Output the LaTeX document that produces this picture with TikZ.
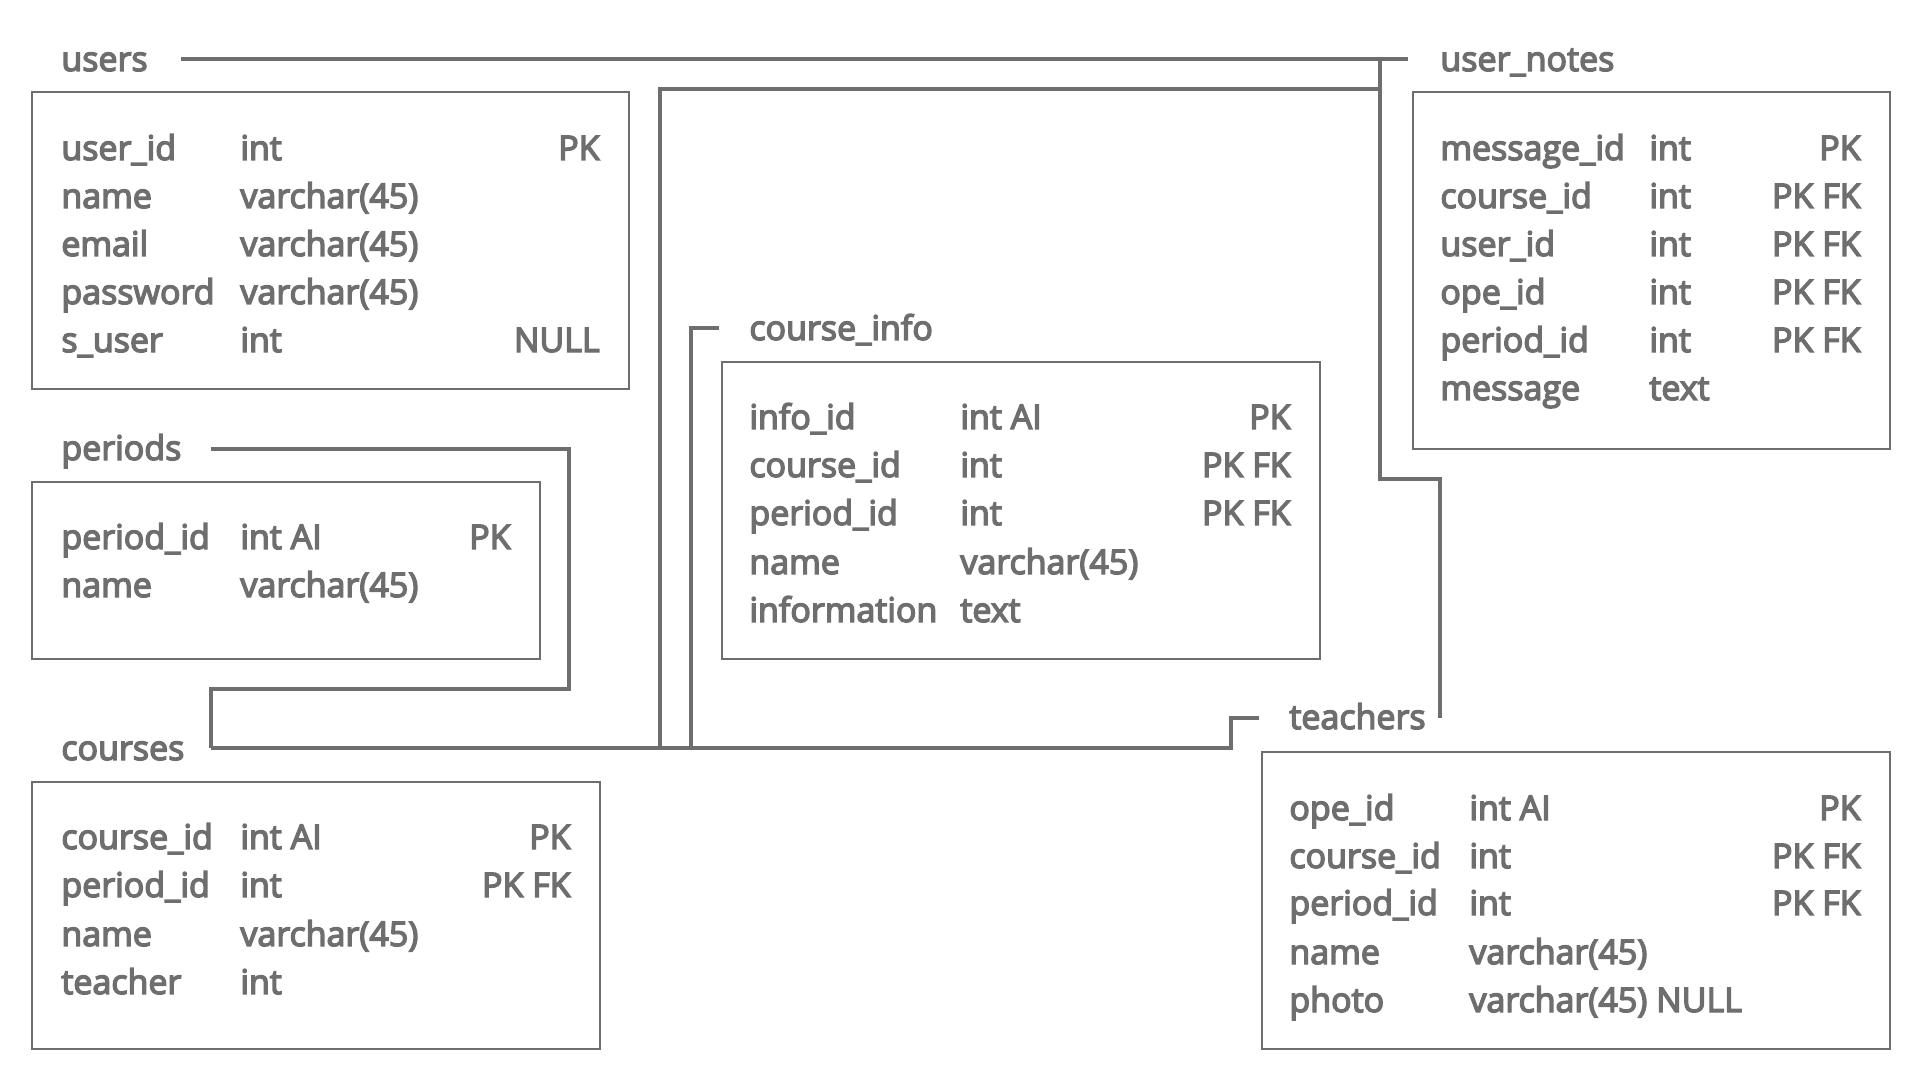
\documentclass[tikz,border=0pt]{standalone}
\usepackage{fontspec}
\setmainfont{Open Sans}
\definecolor{ink}{HTML}{6E6E6E}
\tikzset{
  tbl/.style={draw=ink, line width=1pt, inner sep=0pt, anchor=north west},
  txt/.style={text=ink, font=\fontsize{17}{20}\selectfont, inner sep=0pt, anchor=base west, yshift=-1pt,
    execute at begin node={\special{pdf:literal direct 2 Tr 0.7 w}},
    execute at end node={\special{pdf:literal direct 0 Tr}}},
  txtr/.style={txt, anchor=base east},
  conn/.style={draw=ink, line width=2pt, line join=miter},
}
\begin{document}
\begin{tikzpicture}[x=0.5pt, y=-0.5pt]
\useasboundingbox (0,0) rectangle (1920,1080);
% ---------- users ----------
\node[txt] (usersT) at (61,69) {users};
\node[tbl, minimum width=298.5pt, minimum height=148.5pt] (usersB) at (31,91) {};
\node[txt] (u1a) at (61,158) {user\_id};   \node[txt] (u1b) at (240,158) {int};          \node[txtr] (u1c) at (600,158) {PK};
\node[txt] (u2a) at (61,206) {name};       \node[txt] (u2b) at (240,206) {varchar(45)};
\node[txt] (u3a) at (61,254) {email};      \node[txt] (u3b) at (240,254) {varchar(45)};
\node[txt] (u4a) at (61,302) {password};   \node[txt] (u4b) at (240,302) {varchar(45)};
\node[txt] (u5a) at (61,350) {s\_user};    \node[txt] (u5b) at (240,350) {int};          \node[txtr] (u5c) at (600,350) {NULL};
% ---------- periods ----------
\node[txt] (periodsT) at (61,458) {periods};
\node[tbl, minimum width=254pt, minimum height=88.5pt] (periodsB) at (31,481) {};
\node[txt] (p1a) at (61,547) {period\_id}; \node[txt] (p1b) at (240,547) {int AI};       \node[txtr] (p1c) at (511,547) {PK};
\node[txt] (p2a) at (61,595) {name};       \node[txt] (p2b) at (240,595) {varchar(45)};
% ---------- courses ----------
\node[txt] (coursesT) at (61,758) {courses};
\node[tbl, minimum width=284pt, minimum height=133.5pt] (coursesB) at (31,781) {};
\node[txt] (c1a) at (61,847) {course\_id}; \node[txt] (c1b) at (240,847) {int AI};       \node[txtr] (c1c) at (571,847) {PK};
\node[txt] (c2a) at (61,895) {period\_id}; \node[txt] (c2b) at (240,895) {int};          \node[txtr] (c2c) at (571,895) {PK FK};
\node[txt] (c3a) at (61,944) {name};       \node[txt] (c3b) at (240,944) {varchar(45)};
\node[txt] (c4a) at (61,992) {teacher};    \node[txt] (c4b) at (240,992) {int};
% ---------- course_info ----------
\node[txt] (infoT) at (749,338) {course\_info};
\node[tbl, minimum width=299pt, minimum height=148.5pt] (infoB) at (721,361) {};
\node[txt] (i1a) at (749,427) {info\_id};     \node[txt] (i1b) at (960,427) {int AI};      \node[txtr] (i1c) at (1291,427) {PK};
\node[txt] (i2a) at (749,475) {course\_id};   \node[txt] (i2b) at (960,475) {int};         \node[txtr] (i2c) at (1291,475) {PK FK};
\node[txt] (i3a) at (749,523) {period\_id};   \node[txt] (i3b) at (960,523) {int};         \node[txtr] (i3c) at (1291,523) {PK FK};
\node[txt] (i4a) at (749,572) {name};         \node[txt] (i4b) at (960,572) {varchar(45)};
\node[txt] (i5a) at (749,620) {information};  \node[txt] (i5b) at (960,620) {text};
% ---------- user_notes ----------
\node[txt] (notesT) at (1440,69) {user\_notes};
\node[tbl, minimum width=238.5pt, minimum height=178.5pt] (notesB) at (1412,91) {};
\node[txt] (n1a) at (1440,158) {message\_id}; \node[txt] (n1b) at (1649,158) {int};  \node[txtr] (n1c) at (1861,158) {PK};
\node[txt] (n2a) at (1440,206) {course\_id};  \node[txt] (n2b) at (1649,206) {int};  \node[txtr] (n2c) at (1861,206) {PK FK};
\node[txt] (n3a) at (1440,254) {user\_id};    \node[txt] (n3b) at (1649,254) {int};  \node[txtr] (n3c) at (1861,254) {PK FK};
\node[txt] (n4a) at (1440,302) {ope\_id};     \node[txt] (n4b) at (1649,302) {int};  \node[txtr] (n4c) at (1861,302) {PK FK};
\node[txt] (n5a) at (1440,350) {period\_id};  \node[txt] (n5b) at (1649,350) {int};  \node[txtr] (n5c) at (1861,350) {PK FK};
\node[txt] (n6a) at (1440,398) {message};     \node[txt] (n6b) at (1649,398) {text};
% ---------- teachers ----------
\node[txt] (teachT) at (1289,727) {teachers};
\node[tbl, minimum width=314pt, minimum height=148.5pt] (teachB) at (1261,751) {};
\node[txt] (t1a) at (1289,818) {ope\_id};     \node[txt] (t1b) at (1469,818) {int AI};  \node[txtr] (t1c) at (1861,818) {PK};
\node[txt] (t2a) at (1289,866) {course\_id};  \node[txt] (t2b) at (1469,866) {int};     \node[txtr] (t2c) at (1861,866) {PK FK};
\node[txt] (t3a) at (1289,913) {period\_id};  \node[txt] (t3b) at (1469,913) {int};     \node[txtr] (t3c) at (1861,913) {PK FK};
\node[txt] (t4a) at (1289,962) {name};        \node[txt] (t4b) at (1469,962) {varchar(45)};
\node[txt] (t5a) at (1289,1010) {photo};      \node[txt] (t5b) at (1469,1010) {varchar(45) NULL};
% ---------- connector ports ----------
\coordinate (usersP) at (181,59);
\coordinate (notesP) at (1408,59);
\coordinate (jNotes) at (1380,59);
\coordinate (jNotesLow) at (1380,89);
\coordinate (teachTopP) at (1440,718);
\coordinate (teachLeftP) at (1259,718);
\coordinate (coursesP) at (211,748);
\coordinate (periodsP) at (211,449);
\coordinate (infoP) at (719,328);
\coordinate (jE) at (660,748);
\coordinate (jF) at (691,748);
% ---------- connectors ----------
\draw[conn] (usersP) -- (notesP);
\draw[conn] (jNotes) -- (1380,479) -- (1440,479) -- (teachTopP);
\draw[conn] (coursesP) -- (1231,748) -- (1231,718) -- (teachLeftP);
\draw[conn] (periodsP) -- (569,449) -- (569,689) -- (211,689) -- (coursesP);
\draw[conn] (jE) -- (660,89) -- (jNotesLow);
\draw[conn] (jF) -- (691,328) -- (infoP);
\end{tikzpicture}
\end{document}
